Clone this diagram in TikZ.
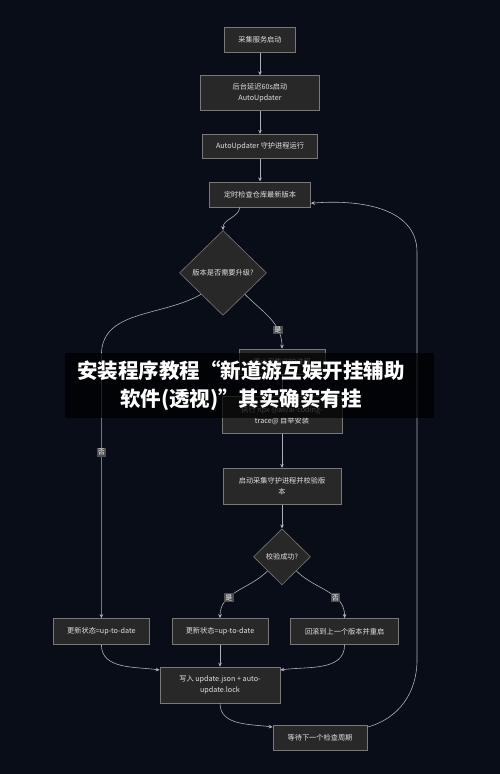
\documentclass[tikz,border=0pt]{standalone}
\usepackage{fontspec}
\setmainfont{Noto Sans CJK SC}
\usetikzlibrary{positioning,arrows.meta,shapes.geometric}

\definecolor{bgnavy}{RGB}{9,13,24}
\definecolor{boxfill}{RGB}{40,40,40}
\definecolor{boxline}{RGB}{120,120,120}
\definecolor{boxtext}{RGB}{225,225,225}
\definecolor{flowline}{RGB}{172,176,186}
\definecolor{tagfill}{RGB}{78,78,78}

\begin{document}
\begin{tikzpicture}[
  node distance=22pt,
  box/.style={draw=boxline,fill=boxfill,text=boxtext,line width=0.6pt,font=\fontsize{7.2}{11}\selectfont,inner sep=0pt,minimum height=25pt,align=center},
  decision/.style={diamond,aspect=1,draw=boxline,fill=boxfill,text=boxtext,line width=0.6pt,font=\fontsize{7.2}{11}\selectfont,inner sep=0pt},
  tag/.style={fill=tagfill,text=white,font=\fontsize{7}{8}\selectfont,inner sep=1.2pt},
  flow/.style={draw=flowline,line width=0.6pt,-{Stealth[length=4pt,width=3.6pt]}},
  every edge/.style={flow},
]
  \path[use as bounding box,fill=bgnavy] (0,0) rectangle (500pt,-774pt);

  % Start-up chain
  \node[box,minimum width=71pt] (svc) at (260pt,-40pt) {采集服务启动};
  \node[box,minimum width=119pt,minimum height=35pt,below=22.5pt of svc] (delay) {后台延迟60s启动\\AutoUpdater};
  \node[box,minimum width=115pt,minimum height=24pt,below=23pt of delay] (daemon) {AutoUpdater 守护进程运行};
  \node[box,minimum width=101pt,below=23pt of daemon] (check) {定时检查仓库最新版本};

  % Upgrade decision
  \node[decision,minimum width=87pt,minimum height=85pt,below=23pt of check,xshift=-37pt] (need) {版本是否需要升级?};

  % Upgrade branch
  \node[box,minimum width=86pt,below=33pt of need,xshift=59pt] (stop) {停止采集守护进程};
  \node[box,minimum width=120pt,minimum height=37pt,below=22pt of stop] (install) {执行 npx @ali/ai-coding-\\trace@ 自举安装};
  \node[box,minimum width=118pt,minimum height=36pt,below=34pt of install] (start) {启动采集守护进程并校验版\\本};
  \node[decision,minimum width=57pt,minimum height=56pt,below=24pt of start] (verify) {校验成功?};

  % Results
  \node[box,minimum width=96pt,minimum height=26pt,below=33pt of verify,xshift=-62pt] (updM) {更新状态=up-to-date};
  \node[box,minimum width=96pt,minimum height=26pt,left=22pt of updM] (updL) {更新状态=up-to-date};
  \node[box,minimum width=108pt,minimum height=26pt,right=22pt of updM] (rollback) {回滚到上一个版本并重启};
  \node[box,minimum width=120pt,minimum height=36pt,below=22pt of updM] (write) {写入 update.json + auto-\\update.lock};
  \node[box,minimum width=94pt,below=22pt of write,xshift=100pt] (wait) {等待下一个检查周期};

  % Bends of the long paths
  \coordinate (nobend) at ([yshift=263pt]updL.north);
  \coordinate (loopbot) at (417pt,-660pt);
  \coordinate (looptop) at (417pt,-252pt);

  % Edges: start-up
  \path (svc) edge (delay);
  \path (delay) edge (daemon);
  \path (daemon) edge (check);
  \path ([xshift=-20pt]check.south) edge[out=-100,in=90] (need.north);

  % Edges: decision
  \path (need.south east) edge[out=-45,in=90] node[tag,pos=0.72] {是} (stop.north);
  \draw[flow] (need.south west) to[out=-150,in=90] (nobend) -- node[tag,pos=0.37] {否} (updL.north);

  % Edges: upgrade
  \path (stop) edge (install);
  \path (install) edge (start);
  \path (start) edge (verify);
  \path (verify.south west) edge[out=-135,in=90] node[tag,pos=0.65] {是} (updM.north);
  \path (verify.south east) edge[out=-45,in=90] node[tag,pos=0.65] {否} (rollback.north);

  % Edges: finish
  \path (updL.south) edge[out=-90,in=172] ([yshift=15pt]write.west);
  \path (updM) edge (write);
  \path (rollback.south) edge[out=-90,in=8] ([yshift=15pt]write.east);
  \path (write.south) edge[out=-90,in=172] ([yshift=11pt]wait.west);
  \draw[flow] ([yshift=11pt]wait.east) to[out=15,in=-90] (loopbot) -- (looptop) to[out=90,in=5] ([yshift=-9pt]check.east);

  % Overlay banner
  \fill[black,opacity=0.72] (65pt,-353pt) rectangle (434pt,-418pt);
  \node[text=white,font=\bfseries\fontsize{20.5}{28}\selectfont,align=center] (banner) at (241pt,-386pt) {安装程序教程“新道游互娱开挂辅助\\软件(透视)”其实确实有挂};
\end{tikzpicture}
\end{document}
